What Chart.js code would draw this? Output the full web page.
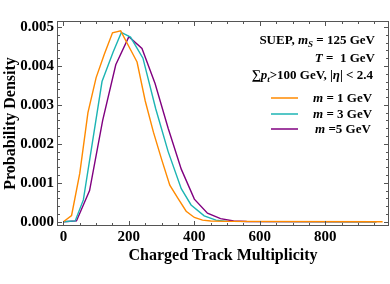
<!DOCTYPE html>
<html><head><meta charset="utf-8">
<script src="https://cdn.jsdelivr.net/npm/chart.js@4.4.1/dist/chart.umd.min.js"></script>
<style>
html,body{margin:0;padding:0;background:#fff;}
#wrap{position:relative;width:390px;height:284px;overflow:hidden;}
#c{position:absolute;left:0;top:0;}
.note{position:absolute;right:15px;font:bold 13px "Liberation Serif",serif;color:#000;white-space:nowrap;text-align:right;line-height:16px;}
.note sub{font-size:9px;line-height:0;vertical-align:-3px;}
.leg{position:absolute;left:313px;font:bold 13px "Liberation Serif",serif;color:#000;white-space:nowrap;line-height:16px;}
.sw{position:absolute;left:271px;width:27px;height:2px;opacity:0.75;}
</style>
</head><body>
<div id="wrap">
<canvas id="c" width="390" height="284"></canvas>
<div class="note" style="top:32px">SUEP, <i>m</i><sub><i>S</i></sub> = 125 GeV</div>
<div class="note" style="top:50px"><i>T</i> =&nbsp; 1 GeV</div>
<div class="note" style="top:67px;right:17px">∑<i>p</i><sub><i>t</i></sub>&gt;100 GeV, |<i>η</i>| &lt; 2.4</div>
<div id="legend"></div>
</div>
<script>
// ---- data ----
const xTicks = [0, 200, 400, 600, 800];
const yTicks = [0, 0.001, 0.002, 0.003, 0.004, 0.005];
const seriesNames = ["m = 1 GeV", "m = 3 GeV", "m = 5 GeV"];
const seriesColors = ["#FF8A00", "#1CB4B4", "#800080"];

const m1X = [0, 25, 50, 75, 100, 125, 150, 175, 200, 225, 250, 275, 300, 325, 350, 375, 400, 425, 450, 500, 975];
const m1Y = [0, 0.00016, 0.00124, 0.0028, 0.0037, 0.0043, 0.00485, 0.0049, 0.0045, 0.0041, 0.0031, 0.0023, 0.0016, 0.00094, 0.0006, 0.00027, 0.00011, 0.00004, 0.00002, 0.00001, 0];

const m3X = [0, 36, 61, 118, 152, 177, 205, 243, 282, 320, 360, 390, 430, 466, 500, 956];
const m3Y = [0, 0.00002, 0.00056, 0.0036, 0.00436, 0.00486, 0.00474, 0.0042, 0.0029, 0.0018, 0.00085, 0.00043, 0.00015, 0.00004, 0.00001, 0];

const m5X = [0, 40, 80, 120, 160, 200, 240, 280, 320, 360, 400, 440, 480, 520, 560, 956];
const m5Y = [0, 0.00002, 0.0008, 0.0026, 0.00403, 0.00475, 0.00445, 0.00355, 0.0024, 0.00135, 0.00058, 0.00022, 0.00008, 0.00002, 0.000005, 0];

const seriesX = [m1X, m3X, m5X];
const seriesY = [m1Y, m3Y, m5Y];

// legend (HTML text)
const legEl = document.getElementById('legend');
const legTops = [97, 113, 128];
seriesNames.forEach((n, i) => {
  const sw = document.createElement('div');
  sw.className = 'sw'; sw.style.top = legTops[i] + 'px'; sw.style.background = seriesColors[i];
  legEl.appendChild(sw);
  const t = document.createElement('div');
  t.className = 'leg'; t.style.top = (legTops[i] - 7) + 'px';
  const parts = n.split(' = ');
  t.innerHTML = '<i>m</i> ' + (i === 2 ? '=' : '= ') + parts[1];
  if (i === 2) t.style.left = '315px';
  legEl.appendChild(t);
});

const FONT = '"Liberation Serif", "Times New Roman", serif';

const frameTicks = {
  id: 'frameTicks',
  afterDraw(chart) {
    const {ctx, chartArea: a, scales: {x, y}} = chart;
    ctx.save();
    ctx.strokeStyle = '#555';
    ctx.lineWidth = 1;
    ctx.strokeRect(a.left + 0.5, a.top + 0.5, a.right - a.left - 1, a.bottom - a.top - 1);
    ctx.beginPath();
    for (let v = 0; v <= 950; v += 50) {
      const px = Math.round(x.getPixelForValue(v)) + 0.5;
      const len = (v % 200 === 0) ? 5 : 3;
      ctx.moveTo(px, a.bottom); ctx.lineTo(px, a.bottom - len);
      ctx.moveTo(px, a.top); ctx.lineTo(px, a.top + len);
    }
    for (let k = 0; k <= 25; k++) {
      const v = k * 0.0002;
      const py = Math.round(y.getPixelForValue(v)) + 0.5;
      const len = (k % 5 === 0) ? 5 : 3;
      ctx.moveTo(a.left, py); ctx.lineTo(a.left + len, py);
      ctx.moveTo(a.right, py); ctx.lineTo(a.right - len, py);
    }
    ctx.stroke();
    ctx.restore();
  }
};

new Chart(document.getElementById('c'), {
  type: 'line',
  data: {
    datasets: seriesNames.map((n, i) => ({
      label: n,
      data: seriesX[i].map((xv, j) => ({x: xv, y: seriesY[i][j]})),
      borderColor: seriesColors[i],
      borderWidth: 1.4,
      pointRadius: 0,
      tension: 0,
      fill: false
    }))
  },
  options: {
    responsive: false,
    animation: false,
    events: [],
    layout: {padding: {top: 21, right: 1, left: 0, bottom: 0}},
    plugins: {legend: {display: false}, tooltip: {enabled: false}},
    scales: {
      x: {
        type: 'linear', min: -19.5, max: 994.5,
        afterBuildTicks: s => { s.ticks = xTicks.map(v => ({value: v})); },
        afterFit: s => { s.height = 58; },
        grid: {display: false, drawTicks: false},
        border: {display: false},
        ticks: {padding: 2, color: '#000', font: {family: FONT, size: 15, weight: 'bold'}, maxRotation: 0,
                callback: v => String(v)},
        title: {display: true, text: 'Charged Track Multiplicity', color: '#000',
                font: {family: FONT, size: 16, weight: 'bold'}, padding: {top: 0, bottom: 19}}
      },
      y: {
        type: 'linear', min: -0.00011, max: 0.005154,
        afterBuildTicks: s => { s.ticks = yTicks.map(v => ({value: v})); },
        afterFit: s => { s.width = 57; },
        grid: {display: false, drawTicks: false},
        border: {display: false},
        ticks: {padding: 3, color: '#000', font: {family: FONT, size: 15, weight: 'bold'},
                callback: v => Number(v).toFixed(3)},
        title: {display: true, text: 'Probability Density', color: '#000',
                font: {family: FONT, size: 16, weight: 'bold'}, padding: {top: 1, bottom: 0}}
      }
    }
  },
  plugins: [frameTicks]
});
</script>
</body></html>
